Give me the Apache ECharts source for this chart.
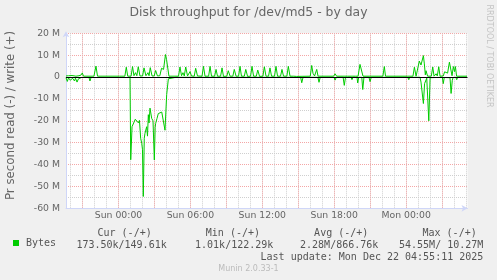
<!DOCTYPE html>
<html>
<head>
<meta charset="utf-8">
<script src="https://cdn.jsdelivr.net/npm/echarts@6/dist/echarts.min.js"></script>
<style>
  html, body { margin: 0; padding: 0; background: #F0F0F0; }
  #chart { width: 497px; height: 280px; }
</style>
</head>
<body>
<div id="chart"></div>
<script>
// ---- data (hours relative to Sun 00:00, values in millions of bytes/s) ----
const X_MIN = -4.38;
const X_MAX = 29.12;

const writeHours = [
  -4.38, -4.27, -4.17, -4.05, -3.88, -3.76, -3.55, -3.30, -3.13, -3.02, -2.92,
  -2.05, -1.88, -1.75,
  0.08, 0.18, 0.29, 0.53, 0.65, 0.77, 1.05, 1.17, 1.29, 1.42, 1.53, 1.65, 1.79,
  2.01, 2.13, 2.29, 2.46, 2.55, 2.65, 2.80, 2.98, 3.10, 3.25, 3.45, 3.59, 3.76,
  3.92, 4.01, 4.09, 4.21,
  5.01, 5.13, 5.26, 5.38, 5.49, 5.61, 5.76, 5.97, 6.09, 6.32, 6.44, 6.59,
  6.97, 7.09, 7.22, 7.52, 7.64, 7.76, 8.02, 8.14, 8.26, 8.52, 8.64, 8.76,
  9.04, 9.16, 9.31, 9.54, 9.66, 9.81, 10.02, 10.14, 10.26, 10.50, 10.62, 10.77,
  11.02, 11.14, 11.27, 11.50, 11.62, 11.77, 12.05, 12.17, 12.31, 12.52, 12.64, 12.77,
  13.02, 13.14, 13.27, 13.52, 13.64, 13.77, 14.05, 14.17, 14.31, 14.61, 14.73, 14.85,
  16.00, 16.12, 16.23, 16.36, 16.44, 16.54, 16.65,
  17.95, 18.07, 18.20, 19.10, 19.21, 19.32, 19.78, 19.88, 19.99, 20.15, 20.26, 20.40,
  22.06, 22.18, 22.28,
  24.12, 24.22, 24.33, 24.57, 24.69, 24.83, 24.98, 25.10, 25.24, 25.44, 25.52, 25.60,
  25.66, 25.79, 26.10, 26.22, 26.33, 26.50, 26.60, 26.72, 26.83,
  27.10, 27.21, 27.33, 27.46, 27.61, 27.72, 27.83, 27.94, 28.04, 28.11, 28.21, 29.08
];
const writeValues = [
  0.5, 1.2, 0.6, 1.3, 0.7, 1.4, 0.4, 0.6, 0.9, 1.9, 0.4,
  0.4, 5.0, 0.4,
  0.4, 1.2, 0.4, 0.4, 4.5, 0.4, 0.4, 4.8, 0.6, 2.0, 0.6, 4.7, 0.5,
  0.5, 4.2, 0.6, 2.0, 0.6, 4.3, 0.5, 0.5, 3.0, 0.5, 0.6, 4.0, 3.5,
  10.3, 8.0, 8.5, 0.4,
  0.4, 4.6, 0.6, 2.0, 0.5, 4.6, 0.5, 2.5, 0.5, 0.4, 4.0, 0.5,
  0.4, 4.9, 0.4, 0.4, 4.9, 0.4, 0.4, 3.5, 0.4, 0.4, 4.2, 0.3,
  0.4, 2.9, 0.4, 0.4, 3.5, 0.4, 0.4, 4.9, 0.4, 0.4, 3.5, 0.3,
  0.4, 4.9, 0.4, 0.4, 3.2, 0.3, 0.4, 4.7, 0.4, 0.4, 4.2, 0.4,
  0.4, 4.9, 0.4, 0.4, 3.5, 0.4, 0.4, 4.9, 0.4, 0.4, 1.3, 0.3,
  0.4, 5.3, 1.7, 0.5, 0.5, 3.5, 0.4,
  0.4, 1.5, 0.4, 0.4, 1.2, 0.4, 0.4, 1.2, 0.4, 5.8, 6.3, 0.4,
  0.4, 4.8, 0.4,
  0.4, 1.0, 0.4, 0.4, 4.5, 0.4, 0.5, 7.3, 5.5, 9.8, 6.0, 1.0,
  2.9, 0.4, 0.4, 4.6, 0.4, 1.5, 0.5, 4.7, 0.4,
  0.5, 2.4, 1.5, 1.8, 6.8, 7.6, 0.6, 4.8, 2.5, 4.8, 0.4, 0.4
];

const readHours = [
  -4.38, -4.27, -4.17, -4.01, -3.84, -3.67, -3.59, -3.46, -3.34, -3.21, -3.09,
  -2.46, -2.38, -2.29,
  0.96, 1.02, 1.13, 1.25, 1.40, 1.52, 1.67, 1.75, 1.85, 1.94, 2.00, 2.07, 2.15,
  2.21, 2.35, 2.42, 2.49, 2.55, 2.63, 2.77, 2.88, 2.99, 3.06, 3.10, 3.21, 3.32,
  3.46, 3.61, 3.74, 3.88, 4.02, 4.16, 4.26,
  4.80, 4.86, 4.92,
  14.80, 14.90, 15.00, 15.20, 15.29, 15.40, 16.64, 16.73, 16.83,
  17.98, 18.07, 18.17, 18.74, 18.84, 18.94, 19.40, 19.48, 19.57, 19.90, 19.96, 20.04,
  20.30, 20.38, 20.48, 20.90, 20.99, 21.09, 21.68, 21.76, 21.85,
  24.14, 24.22, 24.30, 25.16, 25.24, 25.44, 25.54, 25.72, 25.89, 26.00,
  27.02, 27.10, 27.18, 27.66, 27.75, 27.85, 27.92, 28.15, 28.22, 28.30, 29.08
];
const readValues = [
  -0.3, -2.0, -0.4, -1.5, -0.5, -1.8, -0.5, -2.3, -0.8, -1.2, -0.2,
  -0.2, -1.8, -0.2,
  -0.2, -37.8, -22.7, -21.8, -19.3, -18.9, -21.0, -19.8, -28.0, -30.3, -33.0, -54.6, -28.0,
  -25.7, -22.7, -27.0, -17.2, -21.0, -14.2, -18.9, -20.0, -37.9, -23.0, -21.2, -19.0, -16.7,
  -17.5, -16.0, -15.2, -24.3, -8.0, -0.8, -0.1,
  -0.1, -0.8, -0.1,
  -0.1, -0.8, -0.1, -0.1, -2.6, -0.1, -0.1, -2.4, -0.1,
  -0.1, -1.4, -0.1, -0.1, -3.8, -0.1, -0.1, -1.2, -0.1, -0.1, -2.7, -0.1,
  -0.1, -5.7, -0.1, -0.1, -2.1, -0.1, -0.1, -0.8, -0.1,
  -0.1, -1.2, -0.1, -0.1, -2.3, -12.1, -3.0, -0.5, -20.0, -0.3,
  -0.1, -3.0, -0.2, -0.3, -7.5, -1.5, -0.2, -0.1, -1.2, -0.1, -0.1
];

const zeroRule = [0];

const tickHours = [0, 6, 12, 18, 24];
const tickLabels = ['Sun 00:00', 'Sun 06:00', 'Sun 12:00', 'Sun 18:00', 'Mon 00:00'];

const seriesName = 'Bytes';
const statHeaders = ['Cur (-/+)', 'Min (-/+)', 'Avg (-/+)', 'Max (-/+)'];
const statValues = ['173.50k/149.61k', '1.01k/122.29k', '2.28M/866.76k', '54.55M/ 10.27M'];
const titleText = 'Disk throughput for /dev/md5 - by day';
const yAxisTitle = 'Pr second read (-) / write (+)';
const lastUpdate = 'Last update: Mon Dec 22 04:55:11 2025';
const watermark = 'RRDTOOL / TOBI OETIKER';
const footer = 'Munin 2.0.33-1';

// ---- chart ----
const zip = (xs, ys) => xs.map((x, i) => [x, ys[i]]);
const SANS = 'DejaVu Sans';
const MONO = 'DejaVu Sans Mono';
const FONT_COLOR = '#666666';
const AXIS_COLOR = '#CFD6F8';
const MAJOR = '#F4A6A6';
const MINOR = '#CFCFCF';

const chart = echarts.init(document.getElementById('chart'), null, { renderer: 'canvas' });

const headerRight = [151.7, 260, 368.3, 476.7];
const valueRight = [166.7, 273.3, 378.3, 483.3];

const graphics = [];
statHeaders.forEach((t, i) => graphics.push({
  type: 'text', silent: true,
  style: { text: t, x: headerRight[i], y: 233.5, align: 'right', verticalAlign: 'middle',
           font: '10px "' + MONO + '"', fill: '#555' }
}));
statValues.forEach((t, i) => graphics.push({
  type: 'text', silent: true,
  style: { text: t, x: valueRight[i], y: 245, align: 'right', verticalAlign: 'middle',
           font: '10px "' + MONO + '"', fill: '#555' }
}));
graphics.push({
  type: 'text', silent: true,
  style: { text: lastUpdate, x: 483.3, y: 257, align: 'right', verticalAlign: 'middle',
           font: '10px "' + MONO + '"', fill: '#555' }
});
graphics.push({
  type: 'text', silent: true,
  style: { text: footer, x: 248.5, y: 269.3, align: 'center', verticalAlign: 'middle',
           font: '8px "' + SANS + '"', fill: '#BBBBBB' }
});
graphics.push({
  type: 'text', silent: true, x: 489, y: 56, rotation: -Math.PI / 2,
  style: { text: watermark, x: 0, y: 0, align: 'center', verticalAlign: 'middle',
           font: '8px "' + SANS + '"', fill: '#C4C4C4' }
});
graphics.push({
  type: 'text', silent: true, x: 10.5, y: 115.5, rotation: Math.PI / 2,
  style: { text: yAxisTitle, x: 0, y: 0, align: 'center', verticalAlign: 'middle',
           font: '11.8px "' + SANS + '"', fill: FONT_COLOR }
});

const option = {
  animation: false,
  backgroundColor: '#F0F0F0',
  textStyle: { fontFamily: SANS },
  title: {
    text: titleText,
    left: 'center',
    top: 6.5,
    padding: 0,
    textStyle: { fontFamily: SANS, fontSize: 12.4, fontWeight: 'normal', color: FONT_COLOR }
  },
  legend: {
    data: [seriesName],
    left: 13,
    top: 238,
    padding: 0,
    icon: 'rect',
    itemWidth: 6,
    itemHeight: 6,
    selectedMode: false,
    textStyle: { fontFamily: MONO, fontSize: 10, color: '#555', padding: [0, 0, 0, 2] }
  },
  grid: {
    left: 66,
    right: 29.5,
    top: 33.3,
    bottom: 71.7,
    show: true,
    backgroundColor: '#FFFFFF',
    borderWidth: 0,
    containLabel: false
  },
  xAxis: [
    {
      type: 'value', min: X_MIN, max: X_MAX, minInterval: 1, maxInterval: 1, splitNumber: 33,
      position: 'bottom',
      axisLine: { show: false, onZero: false }, axisTick: { show: false }, axisLabel: { show: false },
      splitLine: { show: true, showMinLine: false, showMaxLine: false,
                   lineStyle: { color: MINOR, width: 1, type: [1, 1] } }
    },
    {
      type: 'value', min: X_MIN, max: X_MAX, minInterval: 3, maxInterval: 3, splitNumber: 11,
      position: 'bottom',
      axisLine: { show: true, onZero: false, symbol: ['none', 'arrow'], symbolSize: [5, 6],
                  lineStyle: { color: AXIS_COLOR, width: 1 } },
      axisTick: { show: false },
      axisLabel: {
        show: true, margin: 3, color: FONT_COLOR, fontFamily: SANS, fontSize: 9.3,
        formatter: function (v) {
          const i = tickHours.findIndex(h => Math.abs(h - v) < 1e-6);
          return i >= 0 ? tickLabels[i] : '';
        }
      },
      splitLine: { show: true, showMinLine: false, showMaxLine: false,
                   lineStyle: { color: MAJOR, width: 1, type: [1, 1] } }
    }
  ],
  yAxis: {
    type: 'value', min: -60, max: 20, interval: 10,
    axisLine: { show: true, onZero: false, symbol: ['none', 'arrow'], symbolSize: [5, 6],
                symbolOffset: [0, 2], lineStyle: { color: AXIS_COLOR, width: 1 } },
    axisTick: { show: false },
    axisLabel: {
      margin: 6, color: FONT_COLOR, fontFamily: SANS, fontSize: 9.3,
      formatter: v => (v === 0 ? '0' : v + ' M')
    },
    splitLine: { show: true, lineStyle: { color: MAJOR, width: 1, type: [1, 1] } },
    minorTick: { show: false, splitNumber: 2 },
    minorSplitLine: { show: true, lineStyle: { color: MINOR, width: 1, type: [1, 1] } }
  },
  series: [
    {
      name: seriesName, type: 'line', xAxisIndex: 1, yAxisIndex: 0,
      data: zip(readHours, readValues),
      showSymbol: false, symbol: 'none',
      lineStyle: { color: '#00CC00', width: 1 },
      itemStyle: { color: '#00CC00' },
      z: 3
    },
    {
      name: seriesName, type: 'line', xAxisIndex: 1, yAxisIndex: 0,
      data: zip(writeHours, writeValues),
      showSymbol: false, symbol: 'none',
      lineStyle: { color: '#00CC00', width: 1 },
      itemStyle: { color: '#00CC00' },
      z: 3,
      markLine: {
        silent: true, symbol: 'none', animation: false,
        label: { show: false },
        lineStyle: { color: '#000000', width: 1, type: 'solid' },
        data: zeroRule.map(v => ({ yAxis: v }))
      }
    }
  ],
  graphic: graphics
};

chart.setOption(option);
</script>
</body>
</html>
